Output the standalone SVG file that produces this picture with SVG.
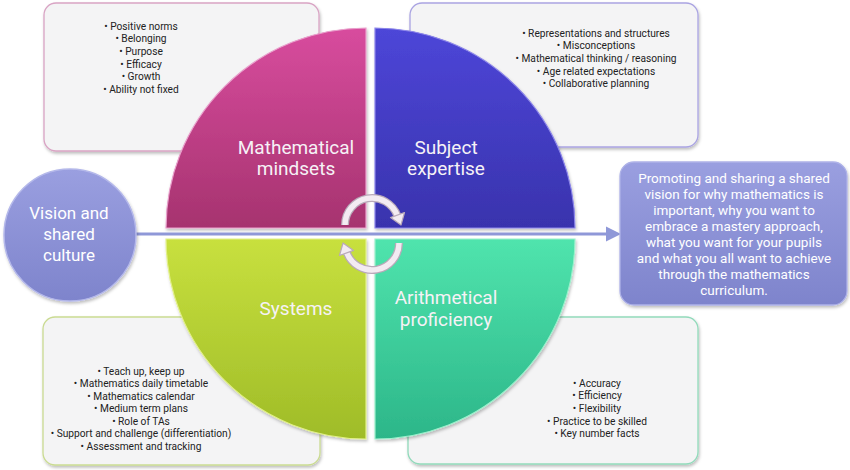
<svg xmlns="http://www.w3.org/2000/svg" width="850" height="470" viewBox="0 0 850 470">
<defs>
<linearGradient id="gPink" x1="0" y1="0" x2="0" y2="1"><stop offset="0" stop-color="#d84c9e"/><stop offset="1" stop-color="#a6336f"/></linearGradient>
<linearGradient id="gBlue" x1="0" y1="0" x2="0" y2="1"><stop offset="0" stop-color="#4d46d8"/><stop offset="1" stop-color="#3933ad"/></linearGradient>
<linearGradient id="gLime" x1="0" y1="0" x2="0" y2="1"><stop offset="0" stop-color="#c8e03e"/><stop offset="1" stop-color="#9fbc28"/></linearGradient>
<linearGradient id="gTeal" x1="0" y1="0" x2="0" y2="1"><stop offset="0" stop-color="#50e4ad"/><stop offset="1" stop-color="#2cb689"/></linearGradient>
<linearGradient id="gViolet" x1="0" y1="0" x2="0" y2="1"><stop offset="0" stop-color="#9a9fe0"/><stop offset="1" stop-color="#7e84cc"/></linearGradient>
<filter id="sh" x="-10%" y="-10%" width="120%" height="125%"><feDropShadow dx="1" dy="2" stdDeviation="1.5" flood-color="#000" flood-opacity="0.25"/></filter>
</defs>
<style>
.box{fill:#f4f4f5;stroke-width:1.3;filter:url(#sh)}
.bl{font-family:Roboto,"Liberation Sans",sans-serif;font-size:10.2px;fill:#222;text-anchor:middle}
.ql{font-family:Roboto,"Liberation Sans",sans-serif;font-size:19px;fill:#f6f2f6;text-anchor:middle}
.wl{font-family:Roboto,"Liberation Sans",sans-serif;fill:#ffffff;text-anchor:middle}
.arcO{fill:none;stroke:#b9a9b9;stroke-width:8}
.arcI{fill:none;stroke:#f3ebf2;stroke-width:5.5}
.head{fill:#f3ebf2;stroke:#b9a9b9;stroke-width:1.2;stroke-linejoin:round}
</style>

<g id="box-mindsets">
<rect class="box" x="44" y="3" width="275" height="148" rx="12" stroke="#d9a4c4"/>
<text class="bl" x="141" y="29.5">• Positive norms</text>
<text class="bl" x="141" y="42.2">• Belonging</text>
<text class="bl" x="141" y="54.9">• Purpose</text>
<text class="bl" x="141" y="67.6">• Efficacy</text>
<text class="bl" x="141" y="80.3">• Growth</text>
<text class="bl" x="141" y="93">• Ability not fixed</text>
</g>
<g id="box-expertise">
<rect class="box" x="410" y="3" width="288" height="144" rx="12" stroke="#aaa4e2"/>
<text class="bl" x="596" y="36.5">• Representations and structures</text>
<text class="bl" x="596" y="49.2">• Misconceptions</text>
<text class="bl" x="596" y="61.9">• Mathematical thinking / reasoning</text>
<text class="bl" x="596" y="74.6">• Age related expectations</text>
<text class="bl" x="596" y="87.3">• Collaborative planning</text>
</g>
<g id="box-systems">
<rect class="box" x="43" y="317" width="277" height="148" rx="12" stroke="#cadb92"/>
<text class="bl" x="141" y="374.5">• Teach up, keep up</text>
<text class="bl" x="141" y="387">• Mathematics daily timetable</text>
<text class="bl" x="141" y="399.5">• Mathematics calendar</text>
<text class="bl" x="141" y="412">• Medium term plans</text>
<text class="bl" x="141" y="424.5">• Role of TAs</text>
<text class="bl" x="141" y="437">• Support and challenge (differentiation)</text>
<text class="bl" x="141" y="449.5">• Assessment and tracking</text>
</g>
<g id="box-proficiency">
<rect class="box" x="408" y="317" width="290" height="147" rx="12" stroke="#92dabb"/>
<text class="bl" x="597" y="386.5">• Accuracy</text>
<text class="bl" x="597" y="399.2">• Efficiency</text>
<text class="bl" x="597" y="411.9">• Flexibility</text>
<text class="bl" x="597" y="424.6">• Practice to be skilled</text>
<text class="bl" x="597" y="437.3">• Key number facts</text>
</g>

<g id="q-mindsets">
<path d="M366,228 L166,228 A200,200 0 0 1 366,28 Z" fill="url(#gPink)" stroke="#e9a0cc" stroke-width="1.2" filter="url(#sh)"/>
<text class="ql" x="296" y="154">Mathematical</text>
<text class="ql" x="296" y="175">mindsets</text>
</g>
<g id="q-expertise">
<path d="M375,228 L375,28 A200,200 0 0 1 575,228 Z" fill="url(#gBlue)" stroke="#8c86ea" stroke-width="1.2" filter="url(#sh)"/>
<text class="ql" x="446" y="154">Subject</text>
<text class="ql" x="446" y="175">expertise</text>
</g>
<g id="q-systems">
<path d="M366,239 L366,439 A200,200 0 0 1 166,239 Z" fill="url(#gLime)" stroke="#e2f08a" stroke-width="1.2" filter="url(#sh)"/>
<text class="ql" x="296" y="314.5">Systems</text>
</g>
<g id="q-proficiency">
<path d="M375,239 L575,239 A200,200 0 0 1 375,439 Z" fill="url(#gTeal)" stroke="#9cf0cc" stroke-width="1.2" filter="url(#sh)"/>
<text class="ql" x="446" y="304">Arithmetical</text>
<text class="ql" x="446" y="325.5">proficiency</text>
</g>

<g id="connectors">
<line x1="136" y1="234" x2="608" y2="234" stroke="#8f98d8" stroke-width="3"/>
<polygon points="621,234 606,226.5 606,241.5" fill="#8f98d8"/>
</g>

<g id="cycle-arrows">
<path class="arcO" d="M345,225 A27,27 0 0 1 397.4,215.8"/>
<path class="arcI" d="M345,225 A27,27 0 0 1 397.4,215.8"/>
<polygon class="head" points="401,225 404.5,212.5 390.5,217.6"/>
<path class="arcO" d="M399,243 A27,27 0 0 1 346.6,252.2"/>
<path class="arcI" d="M399,243 A27,27 0 0 1 346.6,252.2"/>
<polygon class="head" points="343,243 339.5,255.5 353.5,250.4"/>
</g>

<g id="vision">
<circle cx="70" cy="235" r="66" fill="url(#gViolet)" stroke="#b4b8ea" stroke-width="1.5" filter="url(#sh)"/>
<text class="wl" x="69" y="219" font-size="17">Vision and</text>
<text class="wl" x="69" y="240" font-size="17">shared</text>
<text class="wl" x="69" y="261" font-size="17">culture</text>
</g>

<g id="vision-detail">
<rect x="620" y="162" width="227" height="143" rx="14" fill="url(#gViolet)" stroke="#aeb2e8" stroke-width="1.3" filter="url(#sh)"/>
<text class="wl" x="734" y="182.5" font-size="13.5">Promoting and sharing a shared</text>
<text class="wl" x="734" y="198.5" font-size="13.5">vision for why mathematics is</text>
<text class="wl" x="734" y="214.5" font-size="13.5">important, why you want to</text>
<text class="wl" x="734" y="230.5" font-size="13.5">embrace a mastery approach,</text>
<text class="wl" x="734" y="246.5" font-size="13.5">what you want for your pupils</text>
<text class="wl" x="734" y="262.5" font-size="13.5">and what you all want to achieve</text>
<text class="wl" x="734" y="278.5" font-size="13.5">through the mathematics</text>
<text class="wl" x="734" y="294.5" font-size="13.5">curriculum.</text>
</g>
</svg>
